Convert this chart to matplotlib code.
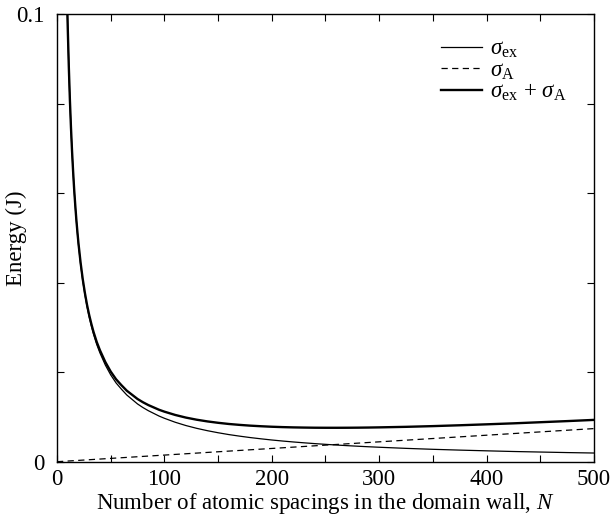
import matplotlib
matplotlib.use("Agg")
import matplotlib.pyplot as plt

plt.rcParams["font.family"] = ["Liberation Serif", "DejaVu Serif"]
plt.rcParams["mathtext.fontset"] = "custom"
plt.rcParams["mathtext.rm"] = "Liberation Serif"
plt.rcParams["mathtext.it"] = "Liberation Serif:italic"
plt.rcParams["mathtext.bf"] = "Liberation Serif:bold"

# Exchange energy falls as 1/N, anisotropy energy rises linearly with N
n_ex = [9.5, 10, 11, 12, 13, 14, 15, 16, 17, 18, 19,
        20, 22, 24, 26, 28, 30, 32, 34, 37, 40, 45, 50, 55, 60, 65, 70, 75,
        80, 85, 90, 95, 100,
        110, 120, 130, 140, 150, 160, 170, 180, 190, 200, 210, 220, 230, 240,
        250, 260, 270, 280, 290, 300,
        325, 350, 375, 400, 425, 450, 475, 500]
sigma_ex = [0.102, 0.0970, 0.0882, 0.0808, 0.0746, 0.0693, 0.0647, 0.0606,
            0.0571, 0.0539, 0.0511,
            0.0485, 0.0441, 0.0404, 0.0373, 0.0346, 0.0323, 0.0303, 0.0285,
            0.0262, 0.0243, 0.0216, 0.0194, 0.0176, 0.0162, 0.0149, 0.0139,
            0.0129, 0.0121, 0.0114, 0.0108, 0.0102, 0.00970,
            0.00882, 0.00808, 0.00746, 0.00693, 0.00647, 0.00606, 0.00571,
            0.00539, 0.00511, 0.00485, 0.00462, 0.00441, 0.00422, 0.00404,
            0.00388, 0.00373, 0.00359, 0.00346, 0.00334, 0.00323,
            0.00298, 0.00277, 0.00259, 0.00243, 0.00228, 0.00216, 0.00204,
            0.00194]
n_a = [0, 500]
sigma_a = [0.0, 0.0074]

x_ticks = [0, 50, 100, 150, 200, 250, 300, 350, 400, 450, 500]
x_labels = ["0", "", "100", "", "200", "", "300", "", "400", "", "500"]
y_ticks = [0, 0.02, 0.04, 0.06, 0.08, 0.1]
y_labels = ["0", "", "", "", "", "0.1"]

# anisotropy term is linear, so its value at each N follows from the end points
slope = (sigma_a[1] - sigma_a[0]) / (n_a[1] - n_a[0])
sigma_tot = [e + sigma_a[0] + slope * n for n, e in zip(n_ex, sigma_ex)]

fig = plt.figure(figsize=(6.12, 5.22), dpi=100)
ax = fig.add_axes([0.0931, 0.1155, 0.8775, 0.8577])

ax.plot(n_ex, sigma_ex, color="black", lw=0.9, label=r"$\sigma_{\rm ex}$")
ax.plot(n_a, sigma_a, color="black", lw=0.9, ls=(0, (5, 3.5)),
        label=r"$\sigma_{\rm A}$")
ax.plot(n_ex, sigma_tot, color="black", lw=1.7,
        label=r"$\sigma_{\rm ex}\,+\,\sigma_{\rm A}$")

ax.set_xlim(0, 500)
ax.set_ylim(0, 0.1)
ax.set_xticks(x_ticks)
ax.set_xticklabels(x_labels)
ax.set_yticks(y_ticks)
ax.set_yticklabels(y_labels)
ax.tick_params(direction="in", length=5, width=0.8, top=True, right=True,
               labelsize=16.5)
ax.tick_params(axis="x", pad=5)
ax.tick_params(axis="y", pad=9)
for s in ax.spines.values():
    s.set_linewidth(1.0)

ax.set_xlabel(r"Number of atomic spacings in the domain wall, $N$",
              fontsize=16.5, labelpad=1)
ax.set_ylabel("Energy (J)", fontsize=16.5)
ax.yaxis.set_label_coords(-0.055, 0.5)

ax.legend(loc="upper right", bbox_to_anchor=(0.975, 0.975), frameon=False,
          fontsize=16.5, handlelength=1.8, handletextpad=0.35,
          labelspacing=0.0, borderaxespad=0.2)

fig.savefig("out.png", dpi=100)
